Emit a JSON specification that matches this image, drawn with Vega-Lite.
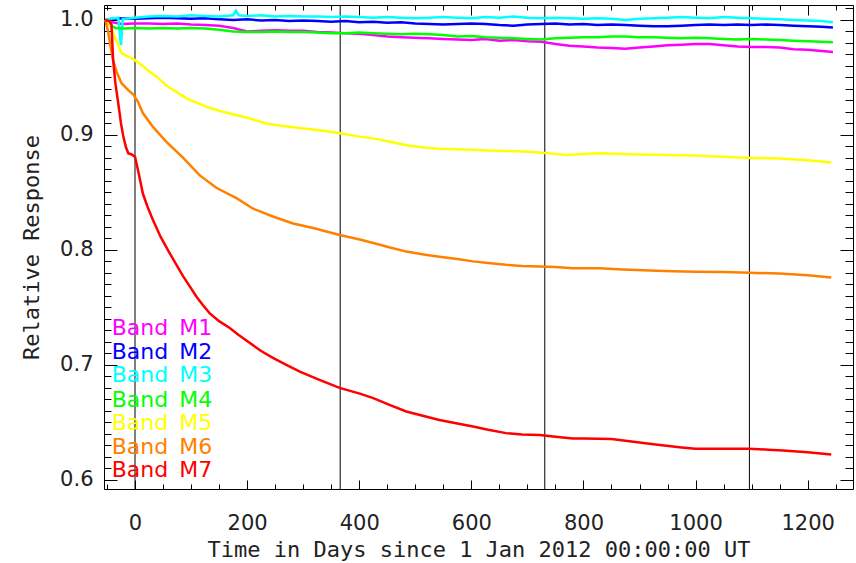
{
"$schema": "https://vega.github.io/schema/vega-lite/v6.json",
"width": 749, "height": 484,
"autosize": {"type": "none"},
"padding": {"left": 104, "top": 5, "right": 3, "bottom": 74},
"background": "white",
"config": {"view": {"stroke": "#000", "strokeWidth": 1},
  "axis": {"grid": false, "domain": false, "zindex": 1, "tickColor": "#000", "tickWidth": 1, "labelFont": "DejaVu Sans", "labelFontSize": 21, "labelColor": "#222", "titleFont": "DejaVu Sans Mono", "titleFontSize": 22, "titleFontWeight": "normal", "titleColor": "#222", "labelFlush": false, "labelOverlap": false}},
"resolve": {"axis": {"x": "independent", "y": "independent"}},
"datasets": {"curves": [
{"b":"M1","d":-53,"v":1.0},{"b":"M1","d":-40,"v":0.998},{"b":"M1","d":-24,"v":0.9965},{"b":"M1","d":0,"v":0.997},{"b":"M1","d":25,"v":0.997},{"b":"M1","d":50,"v":0.9965},{"b":"M1","d":75,"v":0.997},{"b":"M1","d":100,"v":0.996},{"b":"M1","d":125,"v":0.9955},{"b":"M1","d":150,"v":0.995},{"b":"M1","d":175,"v":0.993},{"b":"M1","d":200,"v":0.99},{"b":"M1","d":225,"v":0.9905},{"b":"M1","d":250,"v":0.991},{"b":"M1","d":275,"v":0.9905},{"b":"M1","d":300,"v":0.9905},{"b":"M1","d":325,"v":0.9895},{"b":"M1","d":350,"v":0.989},{"b":"M1","d":375,"v":0.9885},{"b":"M1","d":400,"v":0.988},{"b":"M1","d":425,"v":0.987},{"b":"M1","d":450,"v":0.9855},{"b":"M1","d":475,"v":0.985},{"b":"M1","d":500,"v":0.9845},{"b":"M1","d":525,"v":0.984},{"b":"M1","d":550,"v":0.9835},{"b":"M1","d":575,"v":0.983},{"b":"M1","d":600,"v":0.9825},{"b":"M1","d":625,"v":0.9835},{"b":"M1","d":650,"v":0.982},{"b":"M1","d":675,"v":0.9825},{"b":"M1","d":700,"v":0.9815},{"b":"M1","d":725,"v":0.981},{"b":"M1","d":750,"v":0.979},{"b":"M1","d":775,"v":0.9775},{"b":"M1","d":800,"v":0.977},{"b":"M1","d":825,"v":0.976},{"b":"M1","d":850,"v":0.9755},{"b":"M1","d":875,"v":0.975},{"b":"M1","d":900,"v":0.976},{"b":"M1","d":925,"v":0.977},{"b":"M1","d":950,"v":0.978},{"b":"M1","d":975,"v":0.9785},{"b":"M1","d":1000,"v":0.979},{"b":"M1","d":1025,"v":0.979},{"b":"M1","d":1050,"v":0.978},{"b":"M1","d":1075,"v":0.977},{"b":"M1","d":1100,"v":0.9765},{"b":"M1","d":1125,"v":0.9765},{"b":"M1","d":1150,"v":0.976},{"b":"M1","d":1175,"v":0.9745},{"b":"M1","d":1200,"v":0.974},{"b":"M1","d":1225,"v":0.973},{"b":"M1","d":1245,"v":0.9722},
{"b":"M2","d":-53,"v":1.0},{"b":"M2","d":-40,"v":1.001},{"b":"M2","d":-20,"v":1.0015},{"b":"M2","d":0,"v":1.001},{"b":"M2","d":25,"v":1.0015},{"b":"M2","d":50,"v":1.002},{"b":"M2","d":75,"v":1.0015},{"b":"M2","d":100,"v":1.001},{"b":"M2","d":125,"v":1.0015},{"b":"M2","d":150,"v":1.0005},{"b":"M2","d":175,"v":1.0},{"b":"M2","d":200,"v":1.0005},{"b":"M2","d":225,"v":0.9995},{"b":"M2","d":250,"v":1.0},{"b":"M2","d":275,"v":0.999},{"b":"M2","d":300,"v":0.9995},{"b":"M2","d":325,"v":0.999},{"b":"M2","d":350,"v":0.9985},{"b":"M2","d":375,"v":0.999},{"b":"M2","d":400,"v":0.998},{"b":"M2","d":425,"v":0.9985},{"b":"M2","d":450,"v":0.9975},{"b":"M2","d":475,"v":0.998},{"b":"M2","d":500,"v":0.997},{"b":"M2","d":525,"v":0.9965},{"b":"M2","d":550,"v":0.996},{"b":"M2","d":575,"v":0.9965},{"b":"M2","d":600,"v":0.997},{"b":"M2","d":625,"v":0.9965},{"b":"M2","d":650,"v":0.9955},{"b":"M2","d":675,"v":0.995},{"b":"M2","d":700,"v":0.996},{"b":"M2","d":725,"v":0.9965},{"b":"M2","d":750,"v":0.997},{"b":"M2","d":775,"v":0.996},{"b":"M2","d":800,"v":0.9965},{"b":"M2","d":825,"v":0.9955},{"b":"M2","d":850,"v":0.996},{"b":"M2","d":875,"v":0.9955},{"b":"M2","d":900,"v":0.995},{"b":"M2","d":925,"v":0.9945},{"b":"M2","d":950,"v":0.9945},{"b":"M2","d":975,"v":0.995},{"b":"M2","d":1000,"v":0.9955},{"b":"M2","d":1025,"v":0.996},{"b":"M2","d":1050,"v":0.9955},{"b":"M2","d":1075,"v":0.996},{"b":"M2","d":1100,"v":0.9955},{"b":"M2","d":1125,"v":0.996},{"b":"M2","d":1150,"v":0.9955},{"b":"M2","d":1175,"v":0.995},{"b":"M2","d":1200,"v":0.9945},{"b":"M2","d":1225,"v":0.994},{"b":"M2","d":1245,"v":0.9935},
{"b":"M3","d":-53,"v":1.0},{"b":"M3","d":-45,"v":1.001},{"b":"M3","d":-30,"v":1.002},{"b":"M3","d":-25,"v":0.978},{"b":"M3","d":-22,"v":1.001},{"b":"M3","d":0,"v":1.002},{"b":"M3","d":25,"v":1.003},{"b":"M3","d":50,"v":1.0035},{"b":"M3","d":75,"v":1.003},{"b":"M3","d":100,"v":1.004},{"b":"M3","d":125,"v":1.0035},{"b":"M3","d":150,"v":1.003},{"b":"M3","d":175,"v":1.004},{"b":"M3","d":180,"v":1.008},{"b":"M3","d":185,"v":1.004},{"b":"M3","d":200,"v":1.0035},{"b":"M3","d":225,"v":1.004},{"b":"M3","d":250,"v":1.003},{"b":"M3","d":275,"v":1.0035},{"b":"M3","d":300,"v":1.003},{"b":"M3","d":325,"v":1.003},{"b":"M3","d":350,"v":1.0025},{"b":"M3","d":375,"v":1.003},{"b":"M3","d":400,"v":1.0025},{"b":"M3","d":425,"v":1.002},{"b":"M3","d":450,"v":1.0025},{"b":"M3","d":475,"v":1.002},{"b":"M3","d":500,"v":1.0015},{"b":"M3","d":525,"v":1.002},{"b":"M3","d":550,"v":1.0025},{"b":"M3","d":575,"v":1.002},{"b":"M3","d":600,"v":1.0015},{"b":"M3","d":625,"v":1.0025},{"b":"M3","d":650,"v":1.002},{"b":"M3","d":675,"v":1.003},{"b":"M3","d":700,"v":1.002},{"b":"M3","d":725,"v":1.0015},{"b":"M3","d":750,"v":1.002},{"b":"M3","d":775,"v":1.0015},{"b":"M3","d":800,"v":1.001},{"b":"M3","d":825,"v":1.0015},{"b":"M3","d":850,"v":1.001},{"b":"M3","d":875,"v":1.0},{"b":"M3","d":900,"v":1.001},{"b":"M3","d":925,"v":1.0015},{"b":"M3","d":950,"v":1.002},{"b":"M3","d":975,"v":1.0025},{"b":"M3","d":1000,"v":1.002},{"b":"M3","d":1025,"v":1.0015},{"b":"M3","d":1050,"v":1.0025},{"b":"M3","d":1075,"v":1.002},{"b":"M3","d":1100,"v":1.0015},{"b":"M3","d":1125,"v":1.001},{"b":"M3","d":1150,"v":1.0005},{"b":"M3","d":1175,"v":1.0},{"b":"M3","d":1200,"v":0.9995},{"b":"M3","d":1225,"v":0.999},{"b":"M3","d":1245,"v":0.998},
{"b":"M4","d":-53,"v":1.0},{"b":"M4","d":-45,"v":0.996},{"b":"M4","d":-35,"v":0.993},{"b":"M4","d":-20,"v":0.9925},{"b":"M4","d":0,"v":0.993},{"b":"M4","d":25,"v":0.9925},{"b":"M4","d":50,"v":0.993},{"b":"M4","d":75,"v":0.9925},{"b":"M4","d":100,"v":0.993},{"b":"M4","d":125,"v":0.9925},{"b":"M4","d":150,"v":0.9915},{"b":"M4","d":175,"v":0.99},{"b":"M4","d":200,"v":0.9895},{"b":"M4","d":225,"v":0.9895},{"b":"M4","d":250,"v":0.99},{"b":"M4","d":275,"v":0.9895},{"b":"M4","d":300,"v":0.9895},{"b":"M4","d":325,"v":0.989},{"b":"M4","d":350,"v":0.9885},{"b":"M4","d":375,"v":0.9885},{"b":"M4","d":400,"v":0.989},{"b":"M4","d":425,"v":0.9885},{"b":"M4","d":450,"v":0.988},{"b":"M4","d":475,"v":0.9875},{"b":"M4","d":500,"v":0.988},{"b":"M4","d":525,"v":0.9875},{"b":"M4","d":550,"v":0.987},{"b":"M4","d":575,"v":0.9855},{"b":"M4","d":600,"v":0.986},{"b":"M4","d":625,"v":0.985},{"b":"M4","d":650,"v":0.9845},{"b":"M4","d":675,"v":0.984},{"b":"M4","d":700,"v":0.9835},{"b":"M4","d":725,"v":0.983},{"b":"M4","d":750,"v":0.984},{"b":"M4","d":775,"v":0.9845},{"b":"M4","d":800,"v":0.985},{"b":"M4","d":825,"v":0.985},{"b":"M4","d":850,"v":0.9855},{"b":"M4","d":875,"v":0.9855},{"b":"M4","d":900,"v":0.985},{"b":"M4","d":925,"v":0.985},{"b":"M4","d":950,"v":0.9845},{"b":"M4","d":975,"v":0.984},{"b":"M4","d":1000,"v":0.9845},{"b":"M4","d":1025,"v":0.984},{"b":"M4","d":1050,"v":0.9835},{"b":"M4","d":1075,"v":0.983},{"b":"M4","d":1100,"v":0.9835},{"b":"M4","d":1125,"v":0.983},{"b":"M4","d":1150,"v":0.9825},{"b":"M4","d":1175,"v":0.982},{"b":"M4","d":1200,"v":0.9815},{"b":"M4","d":1225,"v":0.981},{"b":"M4","d":1245,"v":0.9805},
{"b":"M5","d":-53,"v":1.0},{"b":"M5","d":-45,"v":0.997},{"b":"M5","d":-40,"v":0.99},{"b":"M5","d":-36,"v":0.985},{"b":"M5","d":-30,"v":0.978},{"b":"M5","d":-24,"v":0.971},{"b":"M5","d":-12,"v":0.968},{"b":"M5","d":0,"v":0.965},{"b":"M5","d":14,"v":0.96},{"b":"M5","d":26,"v":0.955},{"b":"M5","d":40,"v":0.95},{"b":"M5","d":56,"v":0.943},{"b":"M5","d":75,"v":0.937},{"b":"M5","d":95,"v":0.931},{"b":"M5","d":115,"v":0.927},{"b":"M5","d":130,"v":0.924},{"b":"M5","d":150,"v":0.921},{"b":"M5","d":175,"v":0.918},{"b":"M5","d":200,"v":0.915},{"b":"M5","d":234,"v":0.91},{"b":"M5","d":260,"v":0.908},{"b":"M5","d":294,"v":0.906},{"b":"M5","d":330,"v":0.904},{"b":"M5","d":365,"v":0.9015},{"b":"M5","d":401,"v":0.8985},{"b":"M5","d":425,"v":0.897},{"b":"M5","d":455,"v":0.894},{"b":"M5","d":484,"v":0.891},{"b":"M5","d":515,"v":0.889},{"b":"M5","d":543,"v":0.888},{"b":"M5","d":575,"v":0.8875},{"b":"M5","d":603,"v":0.887},{"b":"M5","d":630,"v":0.8865},{"b":"M5","d":662,"v":0.886},{"b":"M5","d":690,"v":0.8855},{"b":"M5","d":722,"v":0.8846},{"b":"M5","d":750,"v":0.8835},{"b":"M5","d":770,"v":0.8826},{"b":"M5","d":800,"v":0.8835},{"b":"M5","d":830,"v":0.884},{"b":"M5","d":870,"v":0.8835},{"b":"M5","d":900,"v":0.883},{"b":"M5","d":950,"v":0.8825},{"b":"M5","d":1000,"v":0.882},{"b":"M5","d":1050,"v":0.881},{"b":"M5","d":1100,"v":0.88},{"b":"M5","d":1150,"v":0.8795},{"b":"M5","d":1200,"v":0.878},{"b":"M5","d":1242,"v":0.876},
{"b":"M6","d":-53,"v":1.0},{"b":"M6","d":-48,"v":0.99},{"b":"M6","d":-44,"v":0.978},{"b":"M6","d":-39,"v":0.965},{"b":"M6","d":-33,"v":0.955},{"b":"M6","d":-24,"v":0.945},{"b":"M6","d":-12,"v":0.939},{"b":"M6","d":-3,"v":0.935},{"b":"M6","d":5,"v":0.929},{"b":"M6","d":14,"v":0.919},{"b":"M6","d":32,"v":0.907},{"b":"M6","d":56,"v":0.894},{"b":"M6","d":86,"v":0.88},{"b":"M6","d":115,"v":0.865},{"b":"M6","d":145,"v":0.854},{"b":"M6","d":181,"v":0.845},{"b":"M6","d":210,"v":0.836},{"b":"M6","d":246,"v":0.829},{"b":"M6","d":282,"v":0.823},{"b":"M6","d":318,"v":0.819},{"b":"M6","d":365,"v":0.813},{"b":"M6","d":401,"v":0.809},{"b":"M6","d":425,"v":0.806},{"b":"M6","d":455,"v":0.802},{"b":"M6","d":484,"v":0.7985},{"b":"M6","d":515,"v":0.796},{"b":"M6","d":543,"v":0.794},{"b":"M6","d":575,"v":0.792},{"b":"M6","d":603,"v":0.79},{"b":"M6","d":630,"v":0.7885},{"b":"M6","d":662,"v":0.787},{"b":"M6","d":690,"v":0.786},{"b":"M6","d":722,"v":0.7855},{"b":"M6","d":750,"v":0.785},{"b":"M6","d":781,"v":0.784},{"b":"M6","d":829,"v":0.784},{"b":"M6","d":870,"v":0.783},{"b":"M6","d":918,"v":0.782},{"b":"M6","d":960,"v":0.7815},{"b":"M6","d":1000,"v":0.781},{"b":"M6","d":1050,"v":0.7808},{"b":"M6","d":1096,"v":0.78},{"b":"M6","d":1150,"v":0.7795},{"b":"M6","d":1200,"v":0.778},{"b":"M6","d":1242,"v":0.776},
{"b":"M7","d":-53,"v":1.0},{"b":"M7","d":-46,"v":0.999},{"b":"M7","d":-42,"v":0.996},{"b":"M7","d":-39,"v":0.965},{"b":"M7","d":-35,"v":0.945},{"b":"M7","d":-30,"v":0.928},{"b":"M7","d":-25,"v":0.91},{"b":"M7","d":-21,"v":0.899},{"b":"M7","d":-16,"v":0.889},{"b":"M7","d":-12,"v":0.884},{"b":"M7","d":-6,"v":0.883},{"b":"M7","d":0,"v":0.881},{"b":"M7","d":6,"v":0.868},{"b":"M7","d":14,"v":0.849},{"b":"M7","d":22,"v":0.838},{"b":"M7","d":32,"v":0.826},{"b":"M7","d":46,"v":0.811},{"b":"M7","d":62,"v":0.797},{"b":"M7","d":75,"v":0.786},{"b":"M7","d":86,"v":0.777},{"b":"M7","d":98,"v":0.768},{"b":"M7","d":110,"v":0.759},{"b":"M7","d":121,"v":0.752},{"b":"M7","d":133,"v":0.745},{"b":"M7","d":150,"v":0.738},{"b":"M7","d":169,"v":0.732},{"b":"M7","d":185,"v":0.726},{"b":"M7","d":205,"v":0.719},{"b":"M7","d":225,"v":0.712},{"b":"M7","d":246,"v":0.706},{"b":"M7","d":270,"v":0.7},{"b":"M7","d":294,"v":0.694},{"b":"M7","d":329,"v":0.687},{"b":"M7","d":365,"v":0.68},{"b":"M7","d":401,"v":0.675},{"b":"M7","d":425,"v":0.671},{"b":"M7","d":455,"v":0.665},{"b":"M7","d":484,"v":0.6594},{"b":"M7","d":515,"v":0.6555},{"b":"M7","d":543,"v":0.652},{"b":"M7","d":575,"v":0.649},{"b":"M7","d":603,"v":0.6464},{"b":"M7","d":630,"v":0.6435},{"b":"M7","d":662,"v":0.6406},{"b":"M7","d":690,"v":0.6395},{"b":"M7","d":722,"v":0.639},{"b":"M7","d":750,"v":0.6375},{"b":"M7","d":781,"v":0.636},{"b":"M7","d":801,"v":0.636},{"b":"M7","d":850,"v":0.6354},{"b":"M7","d":875,"v":0.634},{"b":"M7","d":900,"v":0.6325},{"b":"M7","d":925,"v":0.631},{"b":"M7","d":948,"v":0.6296},{"b":"M7","d":975,"v":0.6282},{"b":"M7","d":1000,"v":0.627},{"b":"M7","d":1050,"v":0.627},{"b":"M7","d":1096,"v":0.627},{"b":"M7","d":1130,"v":0.6262},{"b":"M7","d":1156,"v":0.6255},{"b":"M7","d":1200,"v":0.624},{"b":"M7","d":1242,"v":0.622}
]},
"layer": [
 {"data": {"values": [{"d":0},{"d":366},{"d":731},{"d":1096}]},
  "mark": {"type": "rule", "color": "#000", "strokeWidth": 1},
  "encoding": {
   "x": {"field": "d", "type": "quantitative", "scale": {"domain": [-55.3, 1280.8], "nice": false, "zero": false},
     "axis": {"orient": "top", "values": [-50,0,50,100,150,200,250,300,350,400,450,500,550,600,650,700,750,800,850,900,950,1000,1050,1100,1150,1200,1250], "offset": -5, "tickSize": 5, "labels": false, "title": null}},
   "y": {"datum": 0.592, "type": "quantitative", "scale": {"domain": [0.592, 1.013], "nice": false, "zero": false},
     "axis": {"orient": "right", "values": [0.6,0.61,0.62,0.63,0.64,0.65,0.66,0.67,0.68,0.69,0.7,0.71,0.72,0.73,0.74,0.75,0.76,0.77,0.78,0.79,0.8,0.81,0.82,0.83,0.84,0.85,0.86,0.87,0.88,0.89,0.9,0.91,0.92,0.93,0.94,0.95,0.96,0.97,0.98,0.99,1.0,1.01], "offset": -8, "tickSize": 8, "labels": false, "title": null}},
   "y2": {"datum": 1.013}
  }},
 {"data": {"name": "curves"},
  "transform": [{"filter": {"field": "b", "oneOf": ["M1","M2","M3","M4"]}}],
  "mark": {"type": "line", "strokeWidth": 2.5, "clip": true},
  "encoding": {
   "x": {"field": "d", "type": "quantitative", "scale": {"domain": [-55.3, 1280.8], "nice": false, "zero": false},
     "axis": {"orient": "bottom", "values": [0,200,400,600,800,1000,1200], "format": "d", "offset": -9, "tickSize": 9, "labelPadding": 23, "title": "Time in Days since 1 Jan 2012 00:00:00 UT", "titlePadding": 6}},
   "y": {"field": "v", "type": "quantitative", "scale": {"domain": [0.592, 1.013], "nice": false, "zero": false},
     "axis": {"orient": "left", "values": [0.6,0.7,0.8,0.9,1.0], "format": ".1f", "offset": -13, "tickSize": 13, "labelPadding": 11, "title": "Relative Response", "titlePadding": 16}},
   "color": {"field": "b", "type": "nominal", "scale": {"domain": ["M1","M2","M3","M4","M5","M6","M7"], "range": ["#FF00FF","#0000FF","#00FFFF","#00FF00","#FFFF00","#FF8000","#FF0000"]}, "legend": null}
  }},
 {"data": {"name": "curves"},
  "transform": [{"filter": {"field": "b", "oneOf": ["M5","M6","M7"]}}],
  "mark": {"type": "line", "strokeWidth": 2.5, "clip": true},
  "encoding": {
   "x": {"field": "d", "type": "quantitative", "scale": {"domain": [-55.3, 1280.8], "nice": false, "zero": false},
     "axis": {"orient": "bottom", "values": [-50,0,50,100,150,200,250,300,350,400,450,500,550,600,650,700,750,800,850,900,950,1000,1050,1100,1150,1200,1250], "offset": -5, "tickSize": 5, "labels": false, "title": null}},
   "y": {"field": "v", "type": "quantitative", "scale": {"domain": [0.592, 1.013], "nice": false, "zero": false},
     "axis": {"orient": "left", "values": [0.6,0.61,0.62,0.63,0.64,0.65,0.66,0.67,0.68,0.69,0.7,0.71,0.72,0.73,0.74,0.75,0.76,0.77,0.78,0.79,0.8,0.81,0.82,0.83,0.84,0.85,0.86,0.87,0.88,0.89,0.9,0.91,0.92,0.93,0.94,0.95,0.96,0.97,0.98,0.99,1.0,1.01], "offset": -7, "tickSize": 7, "labels": false, "title": null}},
   "color": {"field": "b", "type": "nominal", "legend": null}
  }},
 {"data": {"values": [
   {"t":"Band\u2002M1","b":"M1","d":-41.6,"v":0.7322},
   {"t":"Band\u2002M2","b":"M2","d":-41.6,"v":0.7113},
   {"t":"Band\u2002M3","b":"M3","d":-41.6,"v":0.6913},
   {"t":"Band\u2002M4","b":"M4","d":-41.6,"v":0.6696},
   {"t":"Band\u2002M5","b":"M5","d":-41.6,"v":0.6496},
   {"t":"Band\u2002M6","b":"M6","d":-41.6,"v":0.6287},
   {"t":"Band\u2002M7","b":"M7","d":-41.6,"v":0.6087}]},
  "mark": {"type": "text", "align": "left", "baseline": "middle", "font": "DejaVu Sans", "fontSize": 22},
  "encoding": {
   "x": {"field": "d", "type": "quantitative", "scale": {"domain": [-55.3, 1280.8], "nice": false, "zero": false},
     "axis": {"orient": "top", "values": [0,200,400,600,800,1000,1200], "offset": -10, "tickSize": 10, "labels": false, "title": null}},
   "y": {"field": "v", "type": "quantitative", "scale": {"domain": [0.592, 1.013], "nice": false, "zero": false},
     "axis": {"orient": "right", "values": [0.6,0.7,0.8,0.9,1.0], "offset": -13, "tickSize": 13, "labels": false, "title": null}},
   "text": {"field": "t"},
   "color": {"field": "b", "type": "nominal", "legend": null}
  }}
]
}
